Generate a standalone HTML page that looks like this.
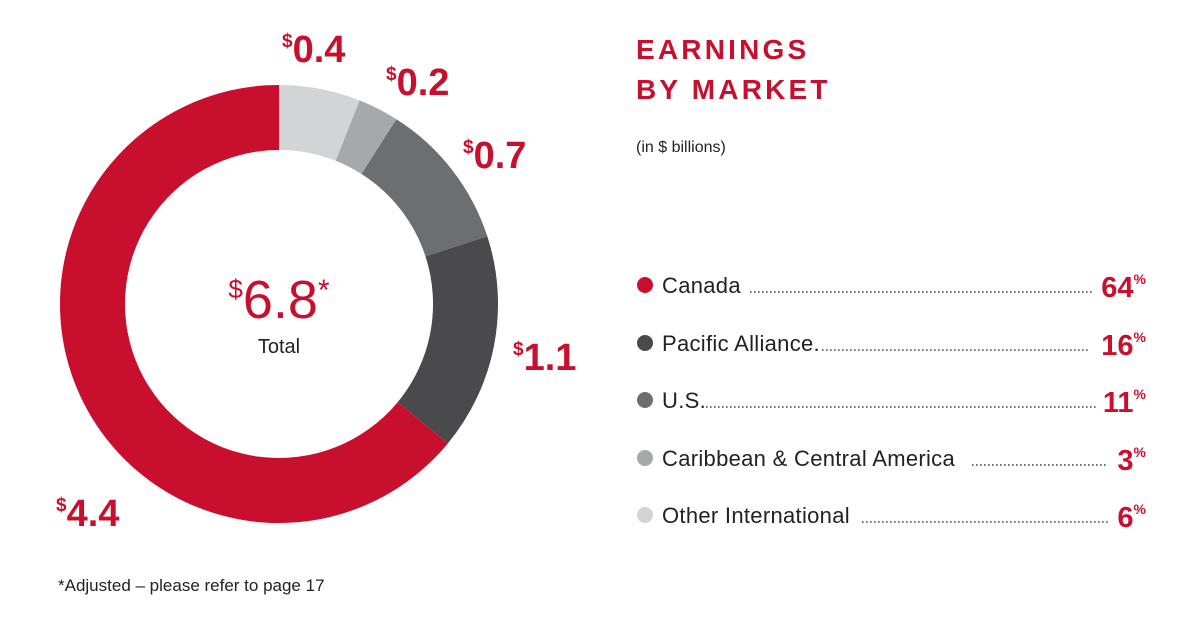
<!DOCTYPE html>
<html><head><meta charset="utf-8"><style>
body{margin:0;background:#fff;width:1200px;height:628px;overflow:hidden;font-family:"Liberation Sans",sans-serif}
</style></head><body>
<svg width="1200" height="628" viewBox="0 0 1200 628" xmlns="http://www.w3.org/2000/svg" font-family="Liberation Sans, sans-serif">
<path d="M279,85 A219,219 0 0 1 359.6,100.4 L335.7,160.8 A154,154 0 0 0 279,150 Z" fill="#d3d4d6"/>
<path d="M359.6,100.4 A219,219 0 0 1 396.4,119.2 L361.5,174.0 A154,154 0 0 0 335.7,160.8 Z" fill="#a7a8ab"/>
<path d="M396.4,119.2 A219,219 0 0 1 487.3,236.3 L425.5,256.4 A154,154 0 0 0 361.5,174.0 Z" fill="#6d6e71"/>
<path d="M487.3,236.3 A219,219 0 0 1 447.8,443.5 L397.7,402.1 A154,154 0 0 0 425.5,256.4 Z" fill="#4a4a4c"/>
<path d="M447.8,443.5 A219,219 0 1 1 279,85 L279,150 A154,154 0 1 0 397.7,402.1 Z" fill="#c8102e"/>
<g fill="#c8102e" font-weight="bold" font-size="38">
<text x="282" y="62"><tspan font-size="19" dy="-15">$</tspan><tspan dy="15">0.4</tspan></text>
<text x="386" y="95"><tspan font-size="19" dy="-15">$</tspan><tspan dy="15">0.2</tspan></text>
<text x="463" y="168"><tspan font-size="19" dy="-15">$</tspan><tspan dy="15">0.7</tspan></text>
<text x="513" y="370"><tspan font-size="19" dy="-15">$</tspan><tspan dy="15">1.1</tspan></text>
<text x="56" y="526"><tspan font-size="19" dy="-15">$</tspan><tspan dy="15">4.4</tspan></text>
</g>
<text x="279" y="318" text-anchor="middle" fill="#c8102e" font-size="54"><tspan font-size="26" dy="-20">$</tspan><tspan dy="20">6.8</tspan><tspan font-size="30" dy="-18">*</tspan></text>
<text x="279" y="353" text-anchor="middle" fill="#222" font-size="20">Total</text>
<g fill="#c8102e" font-weight="bold" font-size="28" letter-spacing="3.2">
<text x="636" y="59">EARNINGS</text>
<text x="636" y="99">BY MARKET</text>
</g>
<text x="636" y="152" font-size="16" fill="#222">(in $ billions)</text>
<g font-size="22" fill="#222" letter-spacing="0.3">
<circle cx="645" cy="285" r="8" fill="#c8102e"/>
<text x="662" y="293">Canada</text>
<circle cx="645" cy="343" r="8" fill="#4a4a4c"/>
<text x="662" y="351">Pacific Alliance.</text>
<circle cx="645" cy="400" r="8" fill="#6d6e71"/>
<text x="662" y="408">U.S.</text>
<circle cx="645" cy="458" r="8" fill="#a7a8ab"/>
<text x="662" y="466">Caribbean &amp; Central America</text>
<circle cx="645" cy="515" r="8" fill="#d3d4d6"/>
<text x="662" y="523">Other International</text>
</g>
<g stroke="#444" stroke-width="1.6" stroke-dasharray="1.6 2.4">
<line x1="750" y1="292" x2="1092" y2="292"/>
<line x1="822" y1="350" x2="1090" y2="350"/>
<line x1="706" y1="407" x2="1096" y2="407"/>
<line x1="972" y1="465" x2="1108" y2="465"/>
<line x1="862" y1="522" x2="1108" y2="522"/>
</g>
<g fill="#c8102e" font-weight="bold" font-size="29" text-anchor="end">
<text x="1146" y="297"><tspan>64</tspan><tspan font-size="14" dy="-13">%</tspan></text>
<text x="1146" y="355"><tspan>16</tspan><tspan font-size="14" dy="-13">%</tspan></text>
<text x="1146" y="412"><tspan>11</tspan><tspan font-size="14" dy="-13">%</tspan></text>
<text x="1146" y="470"><tspan>3</tspan><tspan font-size="14" dy="-13">%</tspan></text>
<text x="1146" y="527"><tspan>6</tspan><tspan font-size="14" dy="-13">%</tspan></text>
</g>
<text x="58" y="591" font-size="17" fill="#222">*Adjusted – please refer to page 17</text>
</svg>
</body></html>
